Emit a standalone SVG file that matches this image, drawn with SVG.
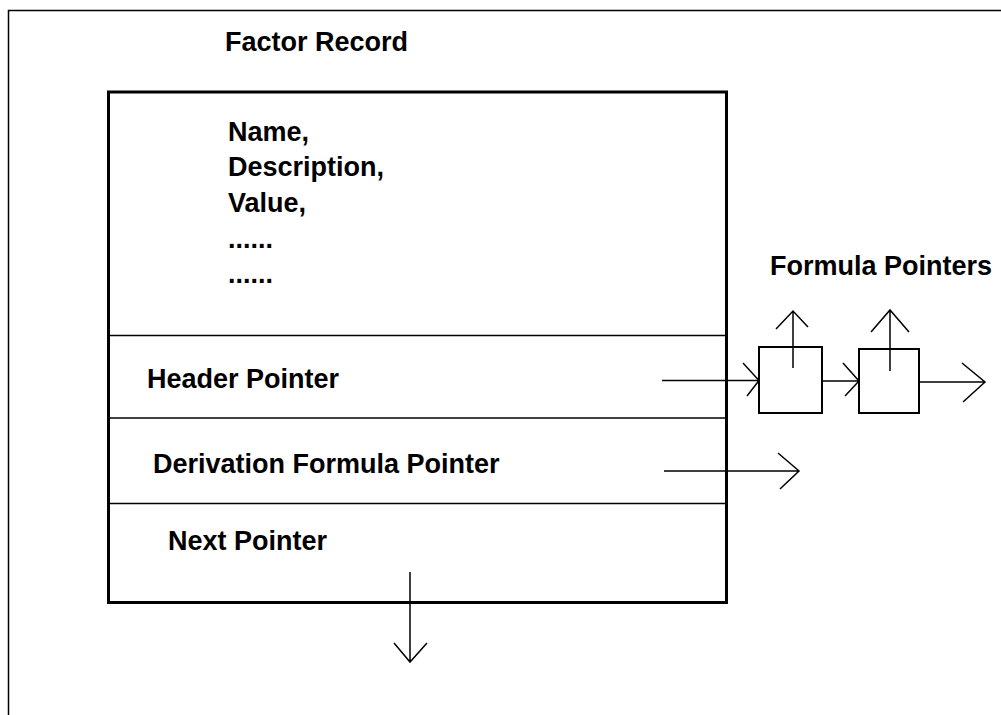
<svg xmlns="http://www.w3.org/2000/svg" width="1001" height="715" viewBox="0 0 1001 715">
<style>
.t{font-family:"Liberation Sans",Arial,sans-serif;font-weight:bold;font-size:27px;fill:#000}
.ln{stroke:#000;stroke-width:1.5;fill:none}
.thick{stroke:#000;stroke-width:3;fill:none}
.box{stroke:#000;stroke-width:2;fill:#fff}
</style>
<rect width="1001" height="715" fill="#fff"/>
<g id="frame">
<path class="ln" d="M8.5,715 V10.5 H1001"/>
</g>
<text class="t" x="225" y="51">Factor Record</text>
<g id="factor-record">
<rect class="thick" x="108.5" y="92" width="618" height="510.5"/>
<line class="ln" x1="108" y1="335.5" x2="726" y2="335.5"/>
<line class="ln" x1="108" y1="418" x2="726" y2="418"/>
<line class="ln" x1="108" y1="503.5" x2="726" y2="503.5"/>
<text class="t" x="228" y="141">Name,</text>
<text class="t" x="228" y="176">Description,</text>
<text class="t" x="228" y="212">Value,</text>
<text class="t" x="228" y="248">......</text>
<text class="t" x="228" y="283">......</text>
<text class="t" x="147" y="388">Header Pointer</text>
<text class="t" x="153" y="473">Derivation Formula Pointer</text>
<text class="t" x="168" y="550">Next Pointer</text>
</g>
<text class="t" x="770" y="275">Formula Pointers</text>
<g id="formula-box-1">
<rect class="box" x="759" y="347" width="63" height="66"/>
</g>
<g id="formula-box-2">
<rect class="box" x="859" y="349" width="60" height="64"/>
</g>
<g id="connectors">
<path class="ln" d="M662,380.5 H759 M743,363 L759,380.5 L747,396"/>
<path class="ln" d="M793,368 V311 M776,329 L793,311 L808,327"/>
<path class="ln" d="M822,381 H859 M843,363 L859,381 L845,396"/>
<path class="ln" d="M890,371 V310 M871,332 L890,310 L909,332"/>
<path class="ln" d="M919,382 H985 M962,363 L985,382 L963,402"/>
<path class="ln" d="M664,471 H799 M778,453 L799,471 L780,489"/>
<path class="ln" d="M410,572 V662 M394,643 L410,662 L427,643"/>
</g>
</svg>
